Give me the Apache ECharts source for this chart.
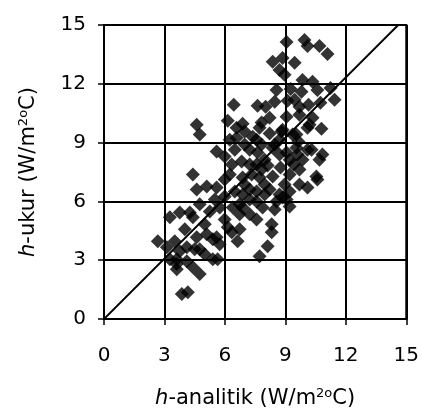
<!DOCTYPE html>
<html>
<head>
<meta charset="utf-8">
<script src="https://cdn.jsdelivr.net/npm/echarts@6/dist/echarts.min.js"></script>
<style>
html,body{margin:0;padding:0;background:#fff;}
#main{width:422px;height:414px;}
</style>
</head>
<body>
<div id="main"></div>
<script>
'use strict';
// h-analitik values (x)
var hAnalitik = [
	9.06, 9.95, 10.1, 10.69, 11.09, 8.37, 8.86, 9.46, 8.71, 8.96,
	9.85, 10.35, 8.56, 9.26, 9.8, 10.59, 11.24, 11.44, 7.62, 8.02,
	8.47, 9.11, 9.7, 10.15, 10.74, 6.44, 4.6, 4.75, 6.14, 6.88,
	7.82, 8.22, 9.06, 9.7, 10.35, 10.2, 10.79, 7.38, 8.22, 8.81,
	9.36, 9.65, 10.3, 10.84, 7.62, 8.37, 9.06, 9.6, 7.57, 8.12,
	8.76, 9.41, 9.7, 10.54, 7.72, 8.37, 9.21, 10.1, 7.57, 8.22,
	8.71, 9.21, 8.56, 9.06, 7.87, 7.57, 10.59, 10.69, 5.59, 5.99,
	4.41, 6.34, 6.83, 6.24, 6.88, 4.6, 5.1, 5.59, 5.99, 6.49,
	6.88, 3.76, 4.26, 5.25, 5.74, 6.39, 6.88, 3.27, 4.41, 4.6,
	5.1, 5.59, 6.34, 6.73, 6.63, 3.12, 3.51, 3.76, 3.27, 3.61,
	4.11, 4.41, 4.75, 5.4, 3.86, 4.16, 2.67, 7.72, 8.12, 8.32,
	8.32, 7.57, 8.86, 9.21, 6.58, 6.98, 6.58, 7.72, 8.86, 9.55,
	10.1, 7.57, 9.55, 10.1, 3.61, 4.11, 4.75, 5.64, 5.4, 3.61,
	7.23, 7.97, 6.98, 7.33, 7.97, 7.23, 6.73, 5.99, 5.0, 4.01,
	4.5, 5.0, 5.74, 6.14, 5.5, 4.75, 5.99, 6.49, 6.98, 8.47,
	8.71, 7.97, 7.23, 7.82, 8.96, 9.7, 9.85, 7.82, 8.71, 9.21,
	7.23, 8.47, 6.73, 6.24, 9.46, 7.23
];
// h-ukur values (y)
var hUkur = [
	14.13, 14.23, 13.93, 13.93, 13.52, 13.12, 13.32, 13.07, 12.71, 12.46,
	12.2, 12.1, 11.69, 11.74, 11.59, 11.69, 11.79, 11.18, 10.88, 10.83,
	11.08, 11.13, 10.83, 10.93, 11.03, 10.93, 9.91, 9.41, 10.12, 9.96,
	10.02, 10.27, 10.32, 10.42, 10.27, 9.91, 9.71, 9.3, 9.46, 9.56,
	9.41, 9.05, 8.64, 8.39, 8.49, 8.74, 8.49, 8.39, 7.88, 7.83,
	7.73, 7.88, 7.63, 7.27, 7.22, 7.27, 7.37, 6.71, 6.51, 6.61,
	6.35, 6.51, 6.0, 6.1, 5.69, 6.0, 7.12, 8.13, 8.54, 8.29,
	7.37, 7.88, 8.03, 7.37, 7.22, 6.61, 6.76, 6.71, 6.25, 6.51,
	6.35, 5.44, 5.44, 5.49, 5.69, 5.69, 5.69, 5.19, 5.19, 4.17,
	4.32, 4.17, 4.42, 4.58, 3.97, 3.66, 3.97, 3.46, 3.05, 2.8,
	2.95, 2.64, 2.29, 3.05, 1.27, 1.37, 3.97, 3.2, 3.71, 4.42,
	4.83, 5.08, 6.2, 5.74, 9.76, 9.56, 9.25, 9.76, 9.66, 9.41,
	9.76, 9.15, 8.74, 8.64, 3.05, 3.66, 3.56, 3.05, 4.07, 2.54,
	8.64, 8.13, 6.86, 7.37, 6.86, 6.1, 5.34, 5.08, 4.83, 4.58,
	3.56, 3.3, 3.81, 4.68, 6.1, 5.85, 7.12, 8.64, 8.9, 8.9,
	8.39, 6.35, 5.34, 7.63, 6.86, 6.86, 8.13, 8.9, 9.15, 8.13,
	7.88, 5.59, 5.85, 9.15, 11.18, 6.61
];
var axisMin = 0;
var axisMax = 15;
var axisStep = 3;
var refLine = [[0, 0], [14.6, 15]];

var points = hAnalitik.map(function (x, i) { return [x, hUkur[i]]; });

var font = 'DejaVu Sans, Liberation Sans, sans-serif';
var richName = {
	i: { fontStyle: 'italic', fontSize: 21, fontFamily: font, color: '#000' },
	t: { fontSize: 21, fontFamily: font, color: '#000' },
	sup: { fontSize: 13, fontFamily: font, color: '#000', padding: [0, 0, 10, 0] }
};

function axisCommon() {
	return {
		type: 'value',
		min: axisMin,
		max: axisMax,
		interval: axisStep,
		axisLine: { show: true, onZero: false, lineStyle: { color: '#000', width: 2 } },
		axisTick: { show: true, inside: false, length: 6, lineStyle: { color: '#000', width: 1.5 } },
		splitLine: { show: true, lineStyle: { color: '#000', width: 2 } },
		axisLabel: { fontSize: 20, fontFamily: font, color: '#000' },
		nameLocation: 'middle',
		nameTextStyle: { rich: richName }
	};
}

var xAxis = axisCommon();
xAxis.name = '{i|h}{t|-analitik (W/m}{sup|2o}{t|C)}';
xAxis.nameGap = 68;
xAxis.axisLabel.margin = 27;

var yAxis = axisCommon();
yAxis.name = '{i|h}{t|-ukur (W/m}{sup|2o}{t|C)}';
yAxis.nameGap = 64;
yAxis.axisLabel.margin = 18;

var chart = echarts.init(document.getElementById('main'));
chart.setOption({
	backgroundColor: '#fff',
	animation: false,
	grid: { left: 104, top: 25, width: 303, height: 295, show: true, borderColor: '#000', borderWidth: 2 },
	xAxis: xAxis,
	yAxis: yAxis,
	series: [{
		type: 'scatter',
		data: points,
		symbol: 'diamond',
		symbolSize: 14,
		itemStyle: { color: '#000' },
		z: 3
	}, {
		type: 'line',
		data: refLine,
		symbol: 'none',
		lineStyle: { color: '#000', width: 1.8 },
		z: 2
	}]
});
</script>
</body>
</html>
